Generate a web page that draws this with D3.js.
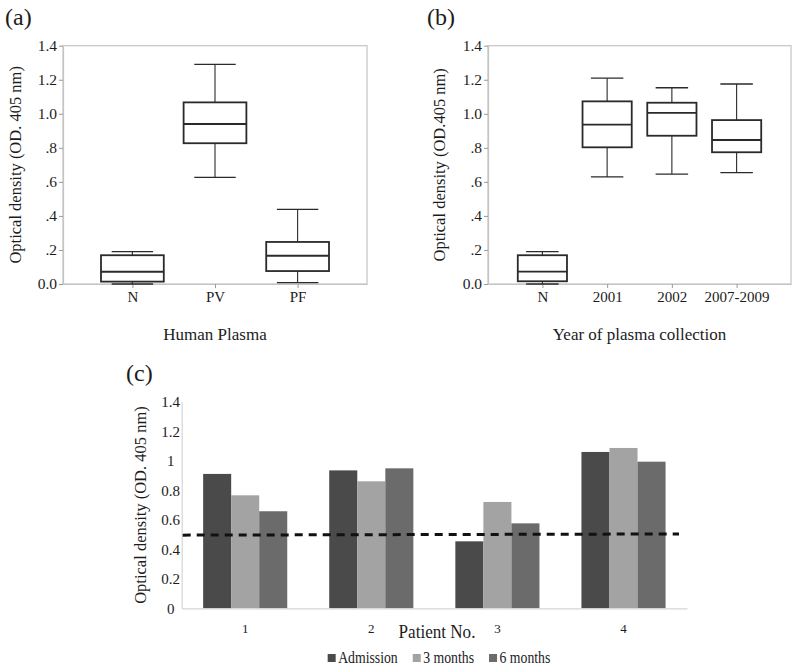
<!DOCTYPE html>
<html><head><meta charset="utf-8">
<script src="https://cdn.jsdelivr.net/npm/d3@7"></script>
<style>
body{margin:0;background:#fff}
svg{display:block}
</style></head><body>
<svg id="chart" width="800" height="669"></svg>
<script>
// ---------- data ----------
const yTickValues = [0, 0.2, 0.4, 0.6, 0.8, 1.0, 1.2, 1.4];
const boxTickLabels = ["0.0", ".2", ".4", ".6", ".8", "1.0", "1.2", "1.4"];
const barTickLabels = ["0", "0.2", "0.4", "0.6", "0.8", "1", "1.2", "1.4"];

// panel (a)
const catsA = ["N", "PV", "PF"];
const lowA  = [0.000, 0.627, 0.008];
const q1A   = [0.014, 0.827, 0.076];
const medA  = [0.072, 0.940, 0.166];
const q3A   = [0.169, 1.067, 0.247];
const highA = [0.190, 1.290, 0.439];

// panel (b)
const catsB = ["N", "2001", "2002", "2007-2009"];
const lowB  = [0.000, 0.629, 0.646, 0.654];
const q1B   = [0.016, 0.803, 0.871, 0.774];
const medB  = [0.073, 0.936, 1.005, 0.846];
const q3B   = [0.169, 1.073, 1.065, 0.963];
const highB = [0.190, 1.209, 1.153, 1.175];

// panel (c)
const patients = ["1", "2", "3", "4"];
const seriesNames = ["Admission", "3 months", "6 months"];
const admission = [0.911, 0.935, 0.454, 1.060];
const month3    = [0.766, 0.861, 0.721, 1.087];
const month6    = [0.658, 0.949, 0.576, 0.994];
const cutoff    = [0.496, 0.504];   // dashed cut-off line (left end, right end)

// ---------- drawing ----------
const FONT = "Liberation Serif";
const svg = d3.select("#chart");
const ink = "#1c1c1c", frameCol = "#c4c4c4";
const seriesColors = ["#4a4a4a", "#a3a3a3", "#6b6b6b"];

function boxPanel(o) {
  const g = svg.append("g");
  const x = d3.scalePoint().domain(o.cats).range([o.L, o.R]).padding(0.84);
  const y = d3.scaleLinear().domain([0, 1.4]).range([o.B, o.T]);
  const step = x.step();
  const bw = step * 0.76, cw = bw * 0.66;

  g.append("rect").attr("x", o.L).attr("y", o.T).attr("width", o.R - o.L).attr("height", o.B - o.T)
    .attr("fill", "none").attr("stroke", frameCol).attr("stroke-width", 1.2);

  const ya = g.append("g").attr("transform", `translate(${o.L},0)`)
    .call(d3.axisLeft(y).tickValues(yTickValues).tickFormat((d, i) => boxTickLabels[i]).tickSize(4).tickPadding(2).tickSizeOuter(0));
  ya.select(".domain").attr("stroke", frameCol).attr("stroke-width", 1.2);
  ya.selectAll(".tick line").attr("stroke", "#9a9a9a");
  ya.selectAll("text").attr("fill", ink).attr("font-size", 15.5);

  const xa = g.append("g").attr("transform", `translate(0,${o.B})`)
    .call(d3.axisBottom(x).tickSize(4).tickPadding(3).tickSizeOuter(0));
  xa.select(".domain").attr("stroke", frameCol).attr("stroke-width", 1.2);
  xa.selectAll(".tick line").attr("stroke", "#9a9a9a");
  xa.selectAll("text").attr("fill", ink).attr("font-size", 15);

  o.cats.forEach((c, i) => {
    const cx = x(c);
    const bg = g.append("g").attr("stroke", "#2a2a2a").attr("fill", "none");
    bg.append("line").attr("x1", cx).attr("x2", cx).attr("y1", y(o.q3[i])).attr("y2", y(o.high[i])).attr("stroke-width", 1.1);
    bg.append("line").attr("x1", cx).attr("x2", cx).attr("y1", y(o.q1[i])).attr("y2", y(o.low[i])).attr("stroke-width", 1.1);
    bg.append("line").attr("x1", cx - cw / 2).attr("x2", cx + cw / 2).attr("y1", y(o.high[i])).attr("y2", y(o.high[i])).attr("stroke-width", 1.3);
    bg.append("line").attr("x1", cx - cw / 2).attr("x2", cx + cw / 2).attr("y1", y(o.low[i])).attr("y2", y(o.low[i])).attr("stroke-width", 1.3);
    bg.append("rect").attr("x", cx - bw / 2).attr("width", bw).attr("y", y(o.q3[i])).attr("height", y(o.q1[i]) - y(o.q3[i]))
      .attr("fill", "#fff").attr("stroke-width", 1.8);
    bg.append("line").attr("x1", cx - bw / 2).attr("x2", cx + bw / 2).attr("y1", y(o.med[i])).attr("y2", y(o.med[i])).attr("stroke-width", 1.8);
  });

  g.append("text").attr("x", (o.L + o.R) / 2).attr("y", 340).attr("text-anchor", "middle")
    .attr("font-size", 17).attr("fill", ink).text(o.xTitle);
  g.append("text").attr("transform", `translate(${o.yTitleX},${(o.T + o.B) / 2}) rotate(-90)`)
    .attr("text-anchor", "middle").attr("font-size", 16.5).attr("fill", ink).text(o.yTitle);
  g.append("text").attr("x", o.labelX).attr("y", 25).attr("font-size", 24).attr("fill", ink).text(o.label);
}

boxPanel({cats: catsA, low: lowA, q1: q1A, med: medA, q3: q3A, high: highA,
  L: 63, R: 367, T: 45.7, B: 284, xTitle: "Human Plasma", yTitle: "Optical density (OD. 405 nm)",
  yTitleX: 21, label: "(a)", labelX: 5});
boxPanel({cats: catsB, low: lowB, q1: q1B, med: medB, q3: q3B, high: highB,
  L: 488, R: 791, T: 45.7, B: 284, xTitle: "Year of plasma collection", yTitle: "Optical density (OD.405 nm)",
  yTitleX: 445, label: "(b)", labelX: 427});

// panel (c)
(function () {
  const L = 181.7, R = 687, T = 401.8, B = 608.3;
  const g = svg.append("g");
  const x = d3.scaleBand().domain(patients).range([L, R]).paddingInner(0.333).paddingOuter(0.17);
  const xs = d3.scaleBand().domain(seriesNames).range([0, x.bandwidth()]).padding(0);
  const y = d3.scaleLinear().domain([0, 1.4]).range([B, T]);
  const values = [admission, month3, month6];

  const ya = g.append("g").attr("transform", `translate(${L},0)`)
    .call(d3.axisLeft(y).tickValues(yTickValues).tickFormat((d, i) => barTickLabels[i]).tickSize(0).tickPadding(11).tickSizeOuter(0));
  ya.select(".domain").attr("stroke", "#d6d6d6").attr("stroke-width", 1.2);
  ya.selectAll("text").attr("fill", ink).attr("font-size", 15).attr("text-anchor", "middle");

  seriesNames.forEach((s, k) => {
    g.append("g").selectAll("rect").data(patients).join("rect")
      .attr("x", p => x(p) + xs(s)).attr("width", xs.bandwidth())
      .attr("y", (p, i) => y(values[k][i])).attr("height", (p, i) => B - y(values[k][i]))
      .attr("fill", seriesColors[k]);
  });

  const xa = g.append("g").attr("transform", `translate(0,${B})`)
    .call(d3.axisBottom(x).tickSize(0).tickPadding(15).tickSizeOuter(0));
  xa.select(".domain").attr("stroke", "#d6d6d6").attr("stroke-width", 1.2);
  xa.selectAll("text").attr("fill", ink).attr("font-size", 13);

  const lx = d3.scaleLinear().domain([0, 1]).range([L + 1, R - 8]);
  g.append("path").datum(cutoff)
    .attr("d", d3.line().x((d, i) => lx(i)).y(d => y(d)))
    .attr("stroke", "#111").attr("stroke-width", 3).attr("stroke-dasharray", "8,6").attr("fill", "none");

  g.append("text").attr("transform", `translate(437,638) scale(0.9,1)`).attr("text-anchor", "middle")
    .attr("font-size", 19).attr("fill", ink).text("Patient No.");
  g.append("text").attr("transform", `translate(146,${(T + B) / 2}) rotate(-90)`).attr("text-anchor", "middle")
    .attr("font-size", 16.5).attr("fill", ink).text("Optical density (OD. 405 nm)");
  g.append("text").attr("x", 126).attr("y", 381).attr("font-size", 24).attr("fill", ink).text("(c)");

  // legend
  const sx = 0.86;
  const lg = g.append("g").attr("transform", "translate(0,663)");
  const items = lg.selectAll("g").data(seriesNames).join("g");
  items.append("rect").attr("y", -9).attr("width", 8).attr("height", 8).attr("fill", (d, i) => seriesColors[i]);
  items.append("text").attr("font-size", 16).attr("fill", ink).attr("font-family", FONT)
    .attr("transform", `translate(10.5,0) scale(${sx},1)`).text(d => d);
  const widths = [];
  items.each(function () {
    const t = d3.select(this).select("text").node();
    widths.push(10.5 + t.getComputedTextLength() * sx);
  });
  const gap = 15;
  const total = d3.sum(widths) + gap * (widths.length - 1);
  let start = 439 - total / 2;
  items.attr("transform", (d, i) => {
    const tx = start; start += widths[i] + gap; return `translate(${tx},0)`;
  });
})();

svg.selectAll("text").attr("font-family", FONT);
</script>
</body></html>
